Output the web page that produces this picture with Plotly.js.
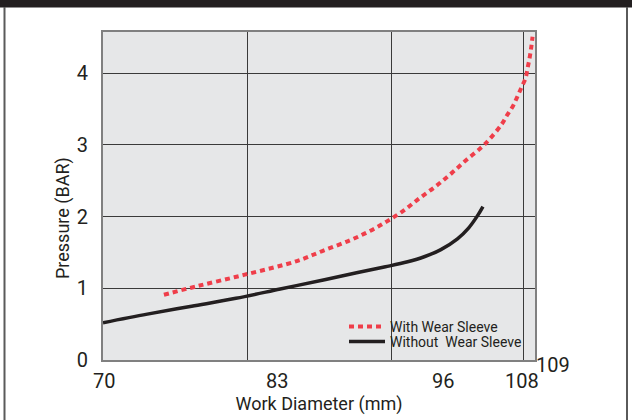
<!DOCTYPE html>
<html>
<head>
<meta charset="utf-8">
<script src="https://cdn.plot.ly/plotly-3.0.1.min.js"></script>
<style>
html,body{margin:0;padding:0;background:#fff;}
#chart{width:632px;height:420px;}
</style>
</head>
<body>
<div id="chart"></div>
<script>
// Work diameter (mm) and pressure (BAR)
const withSleeveX = [75.5, 78.5, 82.8, 87.5, 89.8, 92.3, 94.1, 95.6, 97.1, 98.6, 100.1, 101.5, 102.8, 104.2, 104.9, 106.0, 106.5, 107.0, 107.4, 107.8, 108.15, 108.33, 108.51, 108.65, 108.78];
const withSleeveY = [0.91, 1.03, 1.19, 1.38, 1.52, 1.67, 1.80, 1.93, 2.08, 2.26, 2.43, 2.61, 2.79, 2.97, 3.08, 3.29, 3.42, 3.54, 3.67, 3.81, 3.93, 4.07, 4.21, 4.35, 4.51];
const withoutSleeveX = [70, 74, 78, 82, 86, 90, 93, 95.5, 97.5, 99, 100.5, 102, 103, 103.8, 104.3];
const withoutSleeveY = [0.52, 0.64, 0.75, 0.86, 0.99, 1.12, 1.22, 1.30, 1.37, 1.44, 1.54, 1.69, 1.84, 2.01, 2.14];

const seriesNames = ["With Wear Sleeve", "Without\u00a0 Wear Sleeve"];
const xTickVals = [70, 83, 96, 108];
const xTickLabels = ["70", "83", "96", "108", "109"];
const yTickVals = [0, 1, 2, 3, 4];

const FONT = "Roboto, 'Liberation Sans', sans-serif";
const L = 103, R = 97, T = 32, B = 60, W = 632, H = 420;
const PW = W - L - R, PH = H - T - B;
const px = v => (v - L) / PW;
const py = v => (H - B - v) / PH;

const traces = [
  {x: withSleeveX, y: withSleeveY, name: seriesNames[0], mode: 'lines', type: 'scatter', legend: 'legend',
   line: {color: '#ef3e4a', width: 4, dash: '5px,4px', shape: 'spline', smoothing: 1}},
  {x: withoutSleeveX, y: withoutSleeveY, name: seriesNames[1], mode: 'lines', type: 'scatter', legend: 'legend2',
   line: {color: '#231f20', width: 3.5, shape: 'spline', smoothing: 1}}
];

// tick label positions as drawn in the reference (paper px)
const labelPx = [104, 277, 443, 522, 553];
const labelPy = [381, 381, 381, 381, 365];
const annotations = xTickLabels.map((t, i) => ({
  text: t, xref: 'paper', yref: 'paper', x: px(labelPx[i]), y: py(labelPy[i]),
  xanchor: 'center', yanchor: 'middle', showarrow: false,
  font: {family: FONT, size: 20, color: '#231f20'}
}));
annotations.push({
  text: 'Pressure (BAR)', xref: 'paper', yref: 'paper', x: px(63), y: py(218),
  textangle: -90, xanchor: 'center', yanchor: 'middle', showarrow: false,
  font: {family: FONT, size: 18, color: '#231f20'}
});

const legendBase = {xanchor: 'left', yanchor: 'top', bgcolor: 'rgba(0,0,0,0)',
  font: {family: FONT, size: 14, color: '#231f20'}, itemwidth: 36, tracegroupgap: 0};

const layout = {
  width: W, height: H,
  margin: {l: L, r: R, t: T, b: B, pad: 0},
  paper_bgcolor: '#ffffff',
  plot_bgcolor: '#e6e7e8',
  font: {family: FONT, color: '#231f20'},
  showlegend: true,
  legend: Object.assign({}, legendBase, {x: px(344), y: py(311)}),
  legend2: Object.assign({}, legendBase, {x: px(344), y: py(326)}),
  xaxis: {range: [70, 109], tickmode: 'array', tickvals: xTickVals, showticklabels: false,
          showgrid: true, gridcolor: '#3a3a3a', gridwidth: 1, zeroline: false,
          showline: true, linecolor: '#808080', linewidth: 2, mirror: true, ticks: '',
          title: {text: 'Work Diameter (mm)', standoff: 36, font: {family: FONT, size: 18, color: '#231f20'}}},
  yaxis: {range: [0, 4.575], tickmode: 'array', tickvals: yTickVals,
          showgrid: true, gridcolor: '#3a3a3a', gridwidth: 1, zeroline: false,
          showline: true, linecolor: '#808080', linewidth: 2, mirror: true, ticks: '',
          ticklabelstandoff: 9, tickfont: {family: FONT, size: 20, color: '#231f20'}},
  annotations: annotations,
  shapes: [
    {type: 'rect', xref: 'paper', yref: 'paper', x0: px(0), x1: px(W), y0: py(7.5), y1: py(-2),
     fillcolor: '#231f20', line: {width: 0}},
    {type: 'line', xref: 'paper', yref: 'paper', x0: px(4.5), x1: px(4.5), y0: py(7), y1: py(430),
     line: {color: '#5a5a5a', width: 2}},
    {type: 'line', xref: 'paper', yref: 'paper', x0: px(627), x1: px(627), y0: py(7), y1: py(430),
     line: {color: '#5a5a5a', width: 2}}
  ]
};

Plotly.newPlot('chart', traces, layout, {staticPlot: true, displayModeBar: false});
</script>
</body>
</html>
